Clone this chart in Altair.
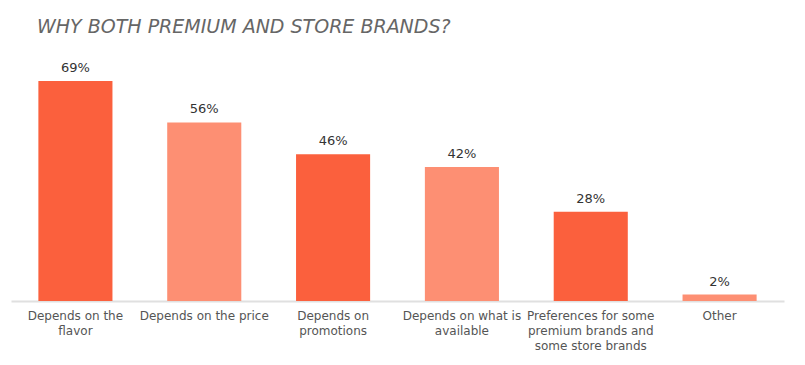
import altair as alt
import pandas as pd

categories = [
    "Depends on the|flavor",
    "Depends on the price",
    "Depends on|promotions",
    "Depends on what is|available",
    "Preferences for some|premium brands and|some store brands",
    "Other",
]
values = [69, 56, 46, 42, 28, 2]
shade = ["dark", "light", "dark", "light", "dark", "light"]
labels = ["69%", "56%", "46%", "42%", "28%", "2%"]

df = pd.DataFrame({"cat": categories, "val": values, "shade": shade, "lab": labels})

FONT = "DejaVu Sans"

x = alt.X(
    "cat:N",
    sort=categories,
    scale=alt.Scale(paddingInner=0.425, paddingOuter=0.2125),
    axis=alt.Axis(
        title=None,
        labelAngle=0,
        labelExpr="split(datum.label, '|')",
        labelFont=FONT,
        labelFontSize=12,
        labelColor="#555555",
        labelPadding=9,
        labelLineHeight=15,
        labelBaseline="top",
        ticks=False,
        domainColor="#e0e0e0",
        domainWidth=2,
        grid=False,
    ),
)
y = alt.Y("val:Q", scale=alt.Scale(domain=[0, 69], nice=False, zero=True), axis=None)

bars = alt.Chart(df).mark_bar().encode(
    x=x,
    y=y,
    color=alt.Color(
        "shade:N",
        scale=alt.Scale(domain=["dark", "light"], range=["#FB603D", "#FD8F73"]),
        legend=None,
    ),
)

text = alt.Chart(df).mark_text(
    baseline="bottom", dy=-6, font=FONT, fontSize=13, color="#333333"
).encode(x=x, y=y, text="lab:N")

chart = (
    alt.layer(bars, text)
    .properties(
        width=773,
        height=220,
        title=alt.TitleParams(
            "WHY BOTH PREMIUM AND STORE BRANDS?",
            anchor="start",
            font=FONT,
            fontSize=19,
            fontStyle="italic",
            fontWeight="normal",
            color="#666666",
            dx=26,
            offset=25,
        ),
        autosize=alt.AutoSizeParams(type="none"),
        padding={"left": 3, "top": 73, "right": 13, "bottom": 56},
    )
    .configure_view(stroke=None)
)

chart.save("out.html", embed_options={"renderer": "svg", "actions": False})
